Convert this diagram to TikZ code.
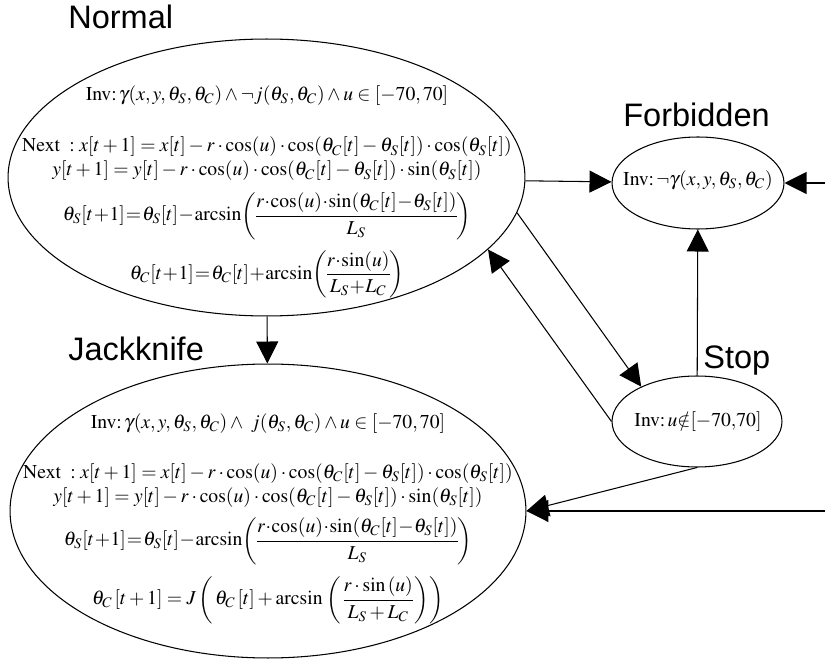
\documentclass[tikz,border=0pt]{standalone}
\usepackage{amsmath}
\usepackage{mathptmx}
\usepackage{fontspec}
\setmainfont{Liberation Serif}
\newfontfamily\labelfont{Liberation Sans}
\usetikzlibrary{arrows.meta,shapes.geometric}
\newcommand{\tightmu}{\thickmuskip=1mu\relax\medmuskip=0.5mu\relax\nulldelimiterspace=0pt\relax}

\begin{document}
\begin{tikzpicture}[x=0.02cm, y=-0.02cm, every node/.style={font=\fontsize{11.2}{13}\selectfont}]
  \tikzset{
    loc/.style={draw, ellipse, inner sep=0pt, line width=0.6pt},
    eqn/.style={inner sep=0pt, anchor=center},
    eqline/.style={inner sep=0pt, anchor=base},
    trans/.style={-{Triangle[length=0.44cm, width=0.44cm]}, line width=0.6pt},
    modename/.style={font=\labelfont\fontsize{18.5}{22}\selectfont, anchor=base west, inner sep=0pt}
  }
  \useasboundingbox (0,0) rectangle (825,662);

  % locations
  \node[loc, minimum width=10.34cm, minimum height=5.54cm] (normal) at (266.5,177.5) {};
  \node[loc, minimum width=10.32cm, minimum height=5.88cm] (jackknife) at (268,511) {};
  \node[loc, minimum width=3.44cm, minimum height=1.84cm] (forbidden) at (698,183) {};
  \node[loc, minimum width=3.40cm, minimum height=1.82cm] (stop) at (697,421.5) {};
  \coordinate (offF) at (825,183);
  \coordinate (offJ) at (825,511);

  \node[modename] (normalname) at (68,29) {Normal};
  \node[modename] (jackname) at (68,360) {Jackknife};
  \node[modename] (forbname) at (623,127) {Forbidden};
  \node[modename] (stopname) at (703,368) {Stop};

  % Normal
  \node[eqn] (nInv) at (267,96) {$\mathrm{Inv}{:}\,\gamma(x,y,\theta_S,\theta_C)\wedge\neg j(\theta_S,\theta_C)\wedge u\in[-70,70]$};
  \node[eqline] (nNext) at (267,152) {$\mathrm{Next}\ :x[t+1]=x[t]-r\cdot\cos(u)\cdot\cos(\theta_C[t]-\theta_S[t])\cdot\cos(\theta_S[t])$};
  \node[eqline] (nY) at (267,176) {$y[t+1]=y[t]-r\cdot\cos(u)\cdot\cos(\theta_C[t]-\theta_S[t])\cdot\sin(\theta_S[t])$};
  \node[eqn] (nThS) at (267,216) {$\tightmu\theta_S[t+1]=\theta_S[t]-\arcsin\!\left(\dfrac{r\cdot\cos(u)\cdot\sin(\theta_C[t]-\theta_S[t])}{L_S}\right)$};
  \node[eqn] (nThC) at (267,274.5) {$\tightmu\theta_C[t+1]=\theta_C[t]+\arcsin\!\left(\dfrac{r\cdot\sin(u)}{L_S+L_C}\right)$};

  % Jackknife
  \node[eqn] (jInv) at (268,424) {$\mathrm{Inv}{:}\,\gamma(x,y,\theta_S,\theta_C)\wedge\ j(\theta_S,\theta_C)\wedge u\in[-70,70]$};
  \node[eqline] (jNext) at (268,478) {$\mathrm{Next}\ :x[t+1]=x[t]-r\cdot\cos(u)\cdot\cos(\theta_C[t]-\theta_S[t])\cdot\cos(\theta_S[t])$};
  \node[eqline] (jY) at (268,502) {$y[t+1]=y[t]-r\cdot\cos(u)\cdot\cos(\theta_C[t]-\theta_S[t])\cdot\sin(\theta_S[t])$};
  \node[eqn] (jThS) at (268,541) {$\tightmu\theta_S[t+1]=\theta_S[t]-\arcsin\!\left(\dfrac{r\cdot\cos(u)\cdot\sin(\theta_C[t]-\theta_S[t])}{L_S}\right)$};
  \node[eqn] (jThC) at (268,600) {$\theta_C\,[t+1]=J\left(\,\theta_C\,[t]+\arcsin\,\left(\dfrac{r\cdot\sin\,(u)}{L_S+L_C}\right)\right)$};

  % Forbidden, Stop
  \node[eqn] (fInv) at (698,181) {$\mathrm{Inv}{:}\,\neg\gamma(x,y,\theta_S,\theta_C)$};
  \node[eqn] (sInv) at (698,422) {$\mathrm{Inv}{:}\,u{\notin}[-70{,}70]$};

  % transitions
  \draw[trans] (normal) -- (forbidden);
  \draw[trans] (offF) -- (forbidden);
  \draw[trans] (normal) -- (jackknife);
  \draw[trans] (normal.-8.6) -- (stop.148.8);
  \draw[trans] (stop.west) -- (normal.-18);
  \draw[trans] (stop) -- (forbidden);
  \draw[trans] (stop.south) -- (jackknife.east);
  \draw[trans] (offJ) -- (jackknife.east);
\end{tikzpicture}
\end{document}
